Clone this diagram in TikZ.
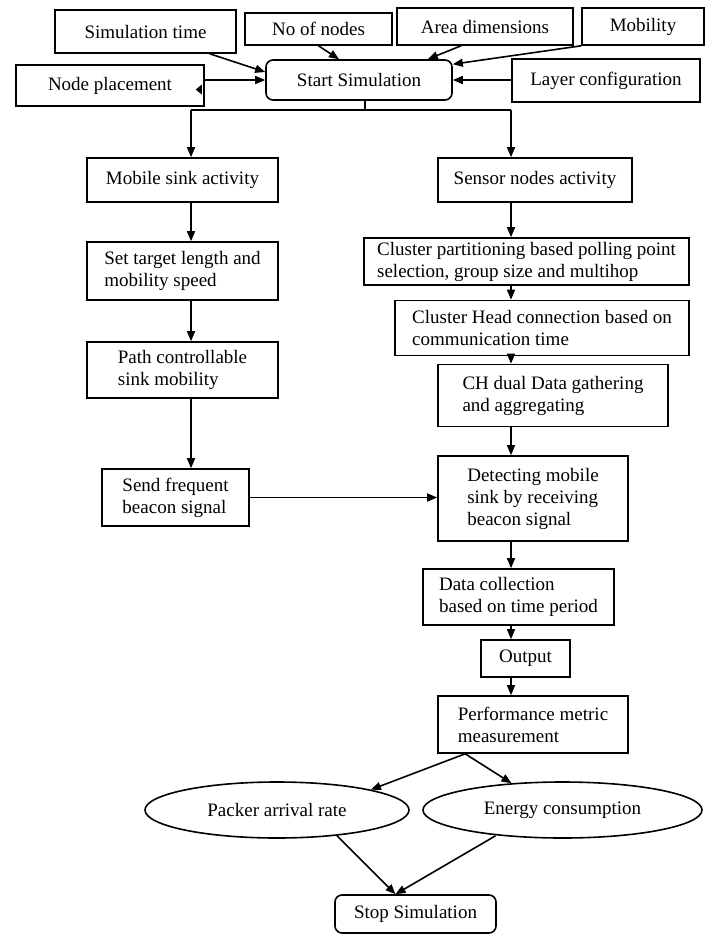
\documentclass[tikz,border=0pt]{standalone}
\usepackage{fontspec}
\setmainfont{Liberation Serif}
\usetikzlibrary{arrows.meta,calc,shapes.geometric}
\begin{document}
\begin{tikzpicture}[x=1pt,y=-1pt,
  every node/.style={font=\fontsize{19}{22}\selectfont},
  box/.style={draw,line width=1.6pt,inner sep=3pt,align=left},
  rbox/.style={box,rounded corners=7pt},
  oval/.style={draw,ellipse,line width=1.6pt,inner sep=0pt},
  arr/.style={line width=1.6pt,-{Triangle[length=10pt,width=8pt]}},
  ln/.style={line width=1.6pt}]
\useasboundingbox (0,0) rectangle (709,935);
\fill[white] (0,0) rectangle (709,935);

% top inputs
\node[box,minimum width=181pt,minimum height=43pt] (simt) at (145.5,31.5) {Simulation time};
\node[box,minimum width=147pt,minimum height=32pt] (nnodes) at (318.5,29) {No of nodes};
\node[box,minimum width=176pt,minimum height=37pt] (area) at (485,26.5) {Area dimensions};
\node[box,minimum width=122pt,minimum height=37pt] (mob) at (643,26.5) {Mobility};
\node[box,minimum width=188pt,minimum height=41pt] (place) at (110,85.5) {Node placement};
\node[rbox,minimum width=186pt,minimum height=40pt] (start) at (359,80) {Start Simulation};
\node[box,minimum width=188pt,minimum height=43pt] (layer) at (606,80.5) {Layer configuration};

% left column
\node[box,minimum width=191pt,minimum height=44pt] (msink) at (182.5,180) {Mobile sink activity};
\node[box,minimum width=191pt,minimum height=58pt] (target) at (182.5,271) {Set target length and\\mobility speed};
\node[box,minimum width=191pt,minimum height=56pt] (path) at (182.5,370) {Path controllable\\sink mobility};
\node[box,minimum width=147pt,minimum height=57pt] (send) at (175.5,497.5) {Send frequent\\beacon signal};

% right column
\node[box,minimum width=194pt,minimum height=44pt] (snode) at (535,180) {Sensor nodes activity};
\node[box,minimum width=325pt,minimum height=47pt] (cpart) at (526.5,261.5) {Cluster partitioning based polling point\\selection, group size and multihop};
\node[box,minimum width=294pt,minimum height=55pt] (chconn) at (542,328) {Cluster Head connection based on\\communication time};
\node[box,minimum width=230pt,minimum height=62pt] (chdual) at (553,395.5) {CH dual Data gathering\\and aggregating};
\node[box,minimum width=190pt,minimum height=85pt] (detect) at (533,498.5) {Detecting mobile\\sink by receiving\\beacon signal};
\node[box,minimum width=191pt,minimum height=56pt] (dcoll) at (518.5,597) {Data collection\\based on time period};
\node[box,minimum width=89pt,minimum height=37pt] (output) at (525.5,658.5) {Output};
\node[box,minimum width=190pt,minimum height=57pt] (perf) at (533,724.5) {Performance metric\\measurement};

% bottom
\node[oval,minimum width=264pt,minimum height=56pt] (packer) at (277,810) {Packer arrival rate};
\node[oval,minimum width=279pt,minimum height=56pt] (energy) at (562.5,810) {Energy consumption};
\node[rbox,minimum width=161pt,minimum height=38pt] (stop) at (415.5,914) {Stop Simulation};

% small mark inside node placement box
\fill ($(place.east)+(-9,4)$) -- ++(6,-5) -- ++(0,10) -- cycle;

% input arrows
\draw[arr] ($(simt.south east)+(-27,0)$) -- ($(start.west)+(0,-8)$);
\draw[arr] ($(nnodes.south)+(0,0)$) -- ($(start.north)+(-20,0)$);
\draw[arr] ($(area.south)+(-24,0)$) -- ($(start.north east)+(-25,0)$);
\draw[arr] (mob.south west) -- ($(start.north east)+(0,5)$);
\draw[arr] (place.east |- start.west) -- (start.west);
\draw[arr] (layer.west |- start.east) -- (start.east);

% branch
\coordinate (lx) at (191,110);
\coordinate (rx) at (511,110);
\coordinate (sx) at (365,110);
\draw[ln] (sx |- start.south) -- (sx);
\draw[ln] (lx) -- (rx);
\draw[arr] (lx) -- (lx |- msink.north);
\draw[arr] (rx) -- (rx |- snode.north);

% left column arrows
\draw[arr] (lx |- msink.south) -- (lx |- target.north);
\draw[arr] (lx |- target.south) -- (lx |- path.north);
\draw[arr] (lx |- path.south) -- (lx |- send.north);
\draw[arr] (send.east) -- (send.east -| detect.west);

% right column arrows
\draw[arr] (rx |- snode.south) -- (rx |- cpart.north);
\draw[arr] (rx |- cpart.south) -- (rx |- chconn.north);
\draw[arr] (rx |- chconn.south) -- (rx |- chdual.north);
\draw[arr] (rx |- chdual.south) -- (rx |- detect.north);
\draw[arr] (rx |- detect.south) -- (rx |- dcoll.north);
\draw[arr] (rx |- dcoll.south) -- (rx |- output.north);
\draw[arr] (rx |- output.south) -- (rx |- perf.north);

% performance to ellipses
\coordinate (pf) at ($(perf.south west)+(28,0)$);
\draw[arr] (pf) -- (packer.north east);
\draw[arr] (pf) -- ($(energy.north)+(-51,2)$);

% ellipses to stop
\coordinate (sp) at ($(stop.north)+(-20,0)$);
\draw[arr] ($(packer.south)+(60,-3)$) -- (sp);
\draw[arr] ($(energy.south)+(-67,-3)$) -- (sp);
\end{tikzpicture}
\end{document}
